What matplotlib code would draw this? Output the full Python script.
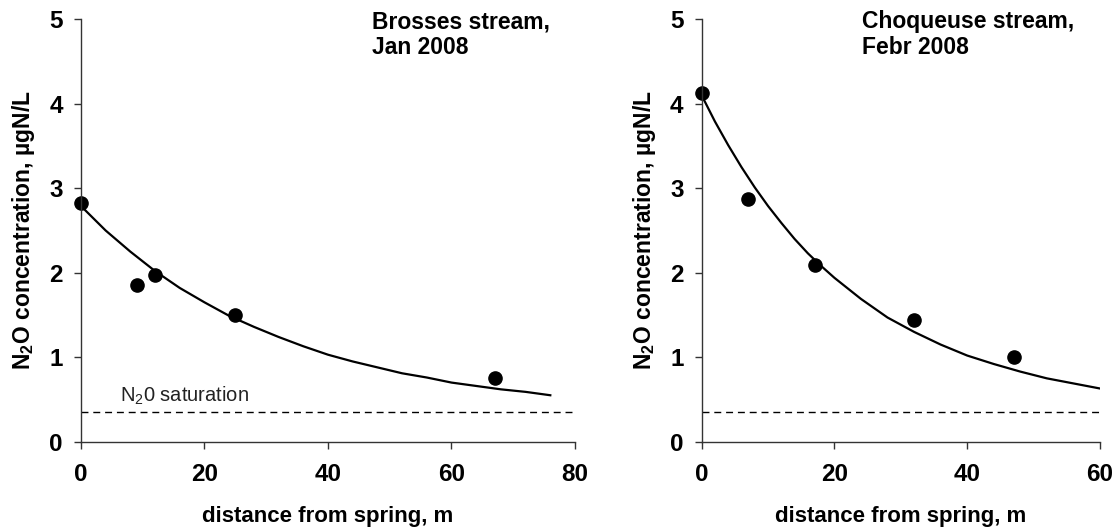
import matplotlib
matplotlib.use("Agg")
import matplotlib.pyplot as plt

plt.rcParams['font.family'] = ['Liberation Sans', 'DejaVu Sans']
plt.rcParams['mathtext.fontset'] = 'custom'
plt.rcParams['mathtext.rm'] = 'Liberation Sans'
plt.rcParams['mathtext.bf'] = 'Liberation Sans:bold'
plt.rcParams['mathtext.default'] = 'regular'

# Brosses stream, Jan 2008
brosses_dist = [0, 9, 12, 25, 67]
brosses_n2o = [2.82, 1.85, 1.97, 1.50, 0.76]
brosses_fit_dist = [0, 4, 8, 12, 16, 20, 24, 28, 32, 36, 40, 44, 48, 52, 56, 60, 64, 68, 72, 76]
brosses_fit_n2o = [2.79, 2.50, 2.25, 2.02, 1.82, 1.65, 1.49, 1.36, 1.24, 1.13, 1.03,
                   0.95, 0.88, 0.81, 0.76, 0.70, 0.66, 0.62, 0.59, 0.55]

# Choqueuse stream, Febr 2008
choq_dist = [0, 7, 17, 32, 47]
choq_n2o = [4.13, 2.87, 2.09, 1.44, 1.00]
choq_fit_dist = [0, 2, 4, 6, 8, 10, 12, 14, 16, 18, 20, 24, 28, 32, 36, 40, 44, 48, 52, 56, 60]
choq_fit_n2o = [4.10, 3.79, 3.51, 3.25, 3.01, 2.79, 2.59, 2.40, 2.23, 2.08, 1.94,
                1.69, 1.47, 1.30, 1.15, 1.02, 0.92, 0.83, 0.75, 0.69, 0.63]

saturation = 0.35

panels = [
    (brosses_dist, brosses_n2o, brosses_fit_dist, brosses_fit_n2o, 80,
     'Brosses stream,\nJan 2008', 0.589, [0.0726, 0.165, 0.4431, 0.7985]),
    (choq_dist, choq_n2o, choq_fit_dist, choq_fit_n2o, 60,
     'Choqueuse stream,\nFebr 2008', 0.402, [0.6293, 0.165, 0.3572, 0.7985]),
]

fig = plt.figure(figsize=(11.15, 5.29), dpi=100)

for i, (xd, yd, xf, yf, xmax, title, tx, rect) in enumerate(panels):
    ax = fig.add_axes(rect)
    ax.plot(xf, yf, color='black', linewidth=1.6)
    ax.plot(xd, yd, 'o', color='black', markersize=9.5, clip_on=False)
    ax.plot([0, xmax], [saturation, saturation], color='black', linewidth=1,
            linestyle=(0, (5, 3.5)))
    if i == 0:
        ax.text(6.3, 0.47, 'N$_2$0 saturation', fontsize=14.5, color='#222222')

    ax.set_xlim(0, xmax)
    ax.set_ylim(0, 5)
    ax.set_xticks(range(0, xmax + 1, 20))
    ax.set_yticks(range(0, 6))
    for s in ['top', 'right']:
        ax.spines[s].set_visible(False)
    for s in ['left', 'bottom']:
        ax.spines[s].set_linewidth(1.0)
        ax.spines[s].set_color('#333333')
    ax.tick_params(axis='both', direction='out', length=5, width=1, color='#333333',
                   labelsize=17.5)
    ax.tick_params(axis='x', pad=10)
    ax.tick_params(axis='y', pad=8)
    for lbl in ax.get_xticklabels() + ax.get_yticklabels():
        lbl.set_fontweight('bold')

    ax.set_xlabel('distance from spring, m', fontsize=16, fontweight='bold', labelpad=15)
    ax.set_ylabel('N$_2$O concentration, µgN/L', fontsize=16.5, fontweight='bold', labelpad=9)
    ax.text(tx, 1.022, title, transform=ax.transAxes,
            fontsize=16.5, fontweight='bold', va='top', ha='left', linespacing=1.15)

fig.savefig('out.png', dpi=100)
